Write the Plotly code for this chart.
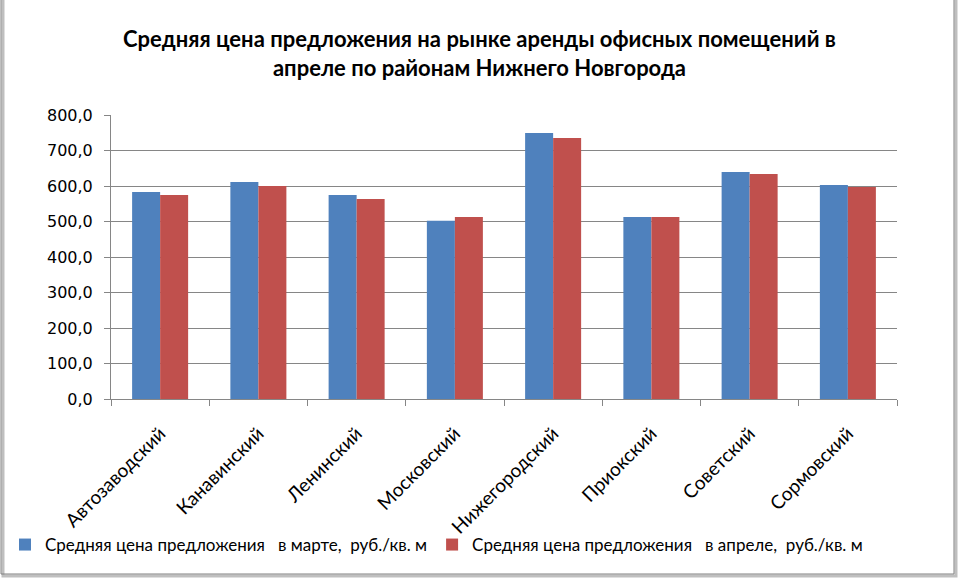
import plotly.graph_objects as go

districts = ["Автозаводский", "Канавинский", "Ленинский", "Московский",
             "Нижегородский", "Приокский", "Советский", "Сормовский"]
march = [583.4, 611.5, 575.0, 501.8, 749.4, 513.0, 639.6, 603.0]
april = [574.9, 600.2, 563.7, 513.0, 735.3, 513.0, 634.0, 597.4]
series_names = ["Средняя цена предложения \u00a0 в марте, \u00a0руб./кв. м",
                "Средняя цена предложения \u00a0 в апреле, \u00a0руб./кв. м"]
yticks = [0, 100, 200, 300, 400, 500, 600, 700, 800]
ytick_text = ["0,0", "100,0", "200,0", "300,0", "400,0", "500,0", "600,0", "700,0", "800,0"]
title = "Средняя цена предложения на рынке аренды офисных помещений в<br>апреле по районам Нижнего Новгорода"

FONT = "Lato, Carlito, sans-serif"
W, H = 959, 579
L, R, T, B = 111, 62, 115, 180
pw, ph = W - L - R, H - T - B

fig = go.Figure()
fig.add_trace(go.Bar(x=districts, y=march, name=series_names[0], marker_color="#4F81BD",
                     marker_line_width=0))
fig.add_trace(go.Bar(x=districts, y=april, name=series_names[1], marker_color="#C0504D",
                     marker_line_width=0))

fig.update_layout(
    width=W, height=H,
    margin=dict(l=L, r=R, t=T, b=B, autoexpand=False),
    paper_bgcolor="white", plot_bgcolor="white",
    font=dict(family=FONT, size=16, color="black"),
    title=dict(text="<b>" + title + "</b>", x=0.5, xanchor="center",
               xref="container", yref="container",
               y=1 - 47 / H, yanchor="middle",
               font=dict(family=FONT, size=22, color="black")),
    barmode="group", bargap=0.43, bargroupgap=0,
    showlegend=True,
    legend=dict(orientation="h", xref="paper", yref="paper",
                x=(5 - L) / pw, xanchor="left", y=-(545 - (T + ph)) / ph,
                yanchor="middle", font=dict(family=FONT, size=17),
                bgcolor="rgba(0,0,0,0)",
                itemwidth=30, tracegroupgap=0, traceorder="normal"),
    xaxis=dict(type="category", showline=True, linecolor="#868686", linewidth=1,
               ticks="outside", tickcolor="#868686", ticklen=6, tickson="boundaries",
               tickangle=-45, showgrid=False, ticklabelstandoff=15, automargin=False,
               tickfont=dict(family=FONT, size=19)),
    yaxis=dict(range=[0, 800], tickvals=yticks, ticktext=ytick_text,
               showline=True, linecolor="#868686", linewidth=1,
               ticks="outside", tickcolor="#868686", ticklen=6, automargin=False,
               showgrid=True, gridcolor="#868686", gridwidth=1, ticklabelstandoff=8,
               zeroline=False, tickfont=dict(family="DejaVu Sans", size=16)),
)

# outer chart frame with shadow
fig.add_shape(type="rect", xref="paper", yref="paper",
              x0=(3 - L) / pw, x1=(W - 3 - L) / pw,
              y0=-(H - 3 - T - ph) / ph, y1=(H - T - 1) / ph,
              line=dict(color="#bfbfbf", width=3), layer="below")
fig.add_shape(type="rect", xref="paper", yref="paper",
              x0=(1 - L) / pw, x1=(W - 5 - L) / pw,
              y0=-(H - 5 - T - ph) / ph, y1=(H - T - 1) / ph,
              line=dict(color="#808080", width=1), layer="below")

fig.write_html("out.html")
